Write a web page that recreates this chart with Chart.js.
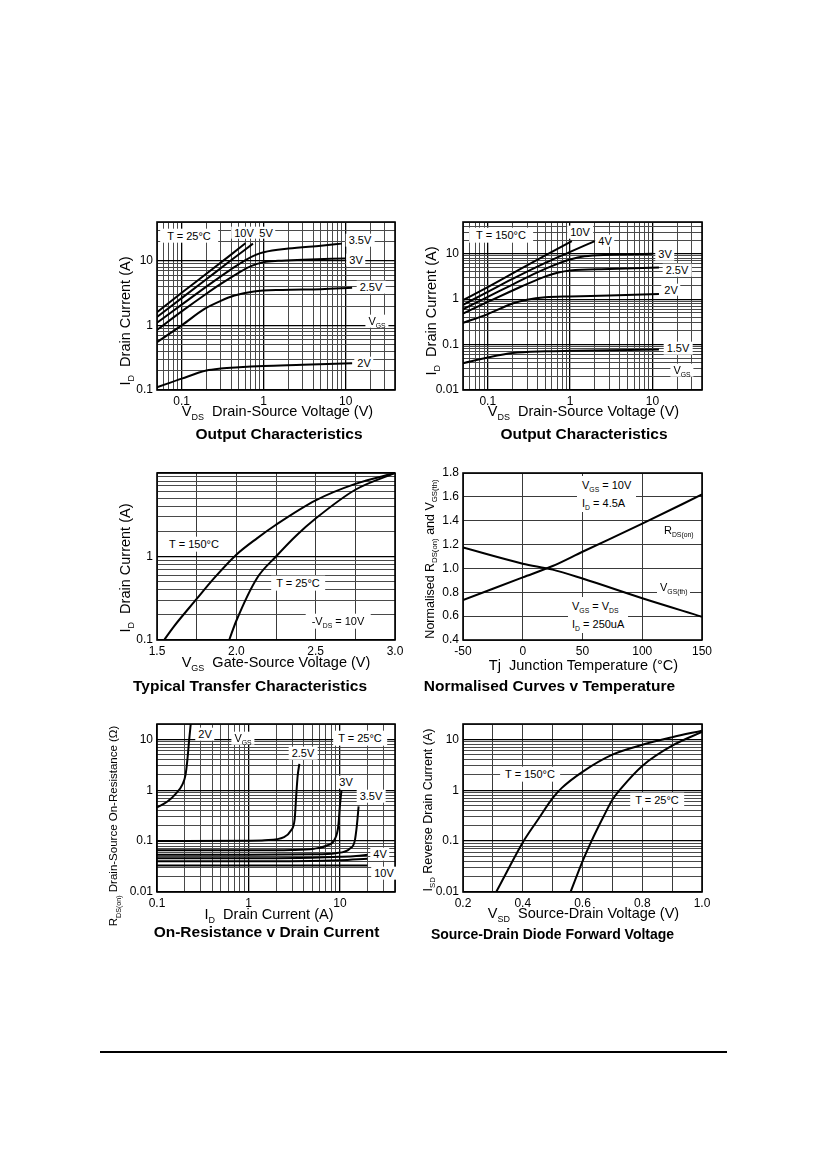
<!DOCTYPE html>
<html><head><meta charset="utf-8">
<script src="https://cdn.jsdelivr.net/npm/chart.js@4.4.1/dist/chart.umd.min.js"></script>
<style>
html,body{margin:0;padding:0;background:#fff;}
body{width:826px;height:1169px;position:relative;overflow:hidden;font-family:Arial,"Liberation Sans",Helvetica,sans-serif;color:#000;}
.box{position:absolute;}
.t{position:absolute;white-space:nowrap;line-height:1.15;}
.w{background:#fff;padding:0 3px;}
.s{font-size:62%;vertical-align:-0.45em;line-height:0;}
.hr{position:absolute;left:100px;top:1051px;width:627px;height:2px;background:#000;}
</style></head><body>
<div class="hr"></div>
<script>
// ================= DATA =================
// Chart 1 – Output Characteristics, T = 25°C   points: [VDS (V), ID (A)]
const oc25_10V  = [[0.05,1.6],[0.1,3.2],[0.2,6.3],[0.4,12.5],[0.6,18.8]];
const oc25_5V   = [[0.05,1.35],[0.1,2.65],[0.2,5.2],[0.4,10.2],[0.74,18.5]];
const oc25_3V5  = [[0.05,1.1],[0.1,2.1],[0.2,4.0],[0.4,7.4],[0.6,10.3],[0.8,12.4],[1,13.6],[2,15.5],[5,17.2],[9,18.5]];
const oc25_3V   = [[0.05,0.85],[0.1,1.65],[0.2,3.1],[0.3,4.4],[0.5,6.6],[0.7,8.3],[1,9.5],[1.5,10],[3,10.4],[10,10.9]];
const oc25_2V5  = [[0.05,0.55],[0.1,1.0],[0.19,1.8],[0.3,2.4],[0.44,2.9],[0.76,3.35],[1.7,3.55],[5,3.65],[12,3.85]];
const oc25_2V   = [[0.05,0.11],[0.1,0.15],[0.2,0.2],[0.3,0.215],[0.5,0.225],[1,0.235],[3,0.245],[12,0.26]];
// Chart 2 – Output Characteristics, T = 150°C  [VDS (V), ID (A)]
const oc150_10V = [[0.05,0.95],[0.1,1.85],[0.2,3.7],[0.5,9.2],[1.05,19]];
const oc150_4V  = [[0.05,0.75],[0.1,1.45],[0.2,2.8],[0.5,6.3],[1,11],[2,19]];
const oc150_3V  = [[0.05,0.6],[0.1,1.12],[0.2,2.1],[0.4,3.9],[0.7,6.0],[1,7.5],[1.5,8.8],[3,9.5],[10,10]];
const oc150_2V5 = [[0.05,0.48],[0.1,0.87],[0.2,1.55],[0.4,2.7],[0.7,3.8],[1,4.3],[3,4.6],[12,5.0]];
const oc150_2V  = [[0.05,0.3],[0.1,0.47],[0.2,0.8],[0.3,0.97],[0.5,1.1],[1,1.15],[3,1.2],[12,1.3]];
const oc150_1V5 = [[0.05,0.039],[0.1,0.052],[0.2,0.065],[0.5,0.071],[1,0.073],[12,0.078]];
// Chart 3 – Typical Transfer Characteristics  [VGS (V), ID (A)]
const tr150 = [[1.545,0.1],[1.6,0.14],[1.75,0.31],[1.86,0.55],[2.0,1.05],[2.13,1.65],[2.25,2.4],[2.5,4.7],[2.75,7.4],[3.0,10]];
const tr25  = [[1.955,0.1],[2.0,0.17],[2.13,0.55],[2.25,1.0],[2.38,1.8],[2.5,2.85],[2.75,6.3],[3.0,10]];
// Chart 4 – Normalised Curves v Temperature  [Tj (°C), normalised value]
const normRds = [[-50,0.735],[0,0.925],[25,1.02],[50,1.14],[100,1.375],[150,1.62]];
const normVth = [[-50,1.175],[0,1.04],[25,0.99],[50,0.915],[100,0.75],[150,0.595]];
// Chart 5 – On-Resistance v Drain Current  [ID (A), RDS(on) (Ω)]
const rds_2V  = [[0.1,0.46],[0.13,0.6],[0.16,0.85],[0.19,1.3],[0.205,2],[0.215,4],[0.225,10],[0.235,22]];
const rds_2V5 = [[0.1,0.1],[1,0.102],[1.5,0.104],[2.45,0.12],[2.9,0.16],[3.2,0.27],[3.33,0.8],[3.45,1.9],[3.6,3.3]];
const rds_3V  = [[0.1,0.066],[1,0.066],[3,0.067],[5.2,0.071],[7.2,0.082],[8.8,0.11],[9.6,0.2],[10,0.5],[10.4,1.0]];
const rds_3V5 = [[0.1,0.054],[1,0.054],[5,0.055],[9,0.058],[12.8,0.071],[14.5,0.1],[15.3,0.2],[16,0.48]];
const rds_4V  = [[0.1,0.046],[1,0.046],[5,0.047],[10,0.049],[15,0.051],[20,0.054]];
const rds_5V  = [[0.1,0.04],[1,0.04],[10,0.042],[20,0.045]];
const rds_10V = [[0.1,0.033],[1,0.033],[10,0.033],[20,0.033]];
// Chart 6 – Source-Drain Diode Forward Voltage  [VSD (V), ISD (A)]
const sd150 = [[0.311,0.01],[0.35,0.027],[0.4,0.094],[0.45,0.26],[0.5,0.7],[0.53,1.1],[0.6,2.3],[0.7,5],[0.8,7.8],[0.9,11],[1.0,14.8]];
const sd25  = [[0.56,0.01],[0.6,0.04],[0.63,0.1],[0.67,0.3],[0.7,0.65],[0.73,1.1],[0.8,3.0],[0.9,7.5],[1.0,14]];
// Tick labels
const decLabels1 = [0.1,1,10];
const decLabels2 = [0.01,0.1,1,10];
const decLabels3 = [0.1,1];
// ================= DRAWING =================
const AX_FONT = {family:'Arial, "Liberation Sans", sans-serif', size:12};
function logTicks(min,max){
  const out=[];
  for(let e=-3;e<=3;e++) for(let m=1;m<=9;m++){
    const v=parseFloat((m*Math.pow(10,e)).toPrecision(6));
    if(v>=min*0.9999 && v<=max*1.0001) out.push(v);
  }
  return out;
}
const isDec = v => Math.abs(Math.log10(v)-Math.round(Math.log10(v)))<1e-6;
function logAxis(min,max,labels){
  return {
    type:'logarithmic', min, max,
    afterBuildTicks: s => { s.ticks = logTicks(min,max).map(v=>({value:v})); },
    ticks:{autoSkip:false, maxRotation:0, minRotation:0, color:'#000', font:AX_FONT, padding:4,
      callback:(v)=>{ const hit=labels.find(l=>Math.abs(l-v)/l<1e-6); return hit===undefined?'':String(hit);} },
    grid:{drawTicks:false, color:c=> (c.tick && isDec(c.tick.value))?'#000':'#4a4a4a', lineWidth:c=>(c.tick&&isDec(c.tick.value))?1.3:1},
    border:{display:false}
  };
}
function linAxis(min,max,step,show,fmt){
  return {type:'linear',min,max,
    ticks:{stepSize:step, autoSkip:false, maxRotation:0, minRotation:0, color:'#000', font:AX_FONT, padding:4,
      callback:v=> show(v)?fmt(v):''},
    grid:{drawTicks:false,color:'#3a3a3a',lineWidth:1}, border:{display:false}};
}
const frame = {id:'frame', afterDraw(ch){const {ctx,chartArea:a}=ch; ctx.save(); ctx.strokeStyle='#000'; ctx.lineWidth=1.6; ctx.strokeRect(a.left,a.top,a.right-a.left,a.bottom-a.top); ctx.restore();}};
function makeChart(p, xAxis, yAxis, series){
  const YW=52, PT=9, PR=16, XH=22;
  const wrap=document.createElement('div'); wrap.className='box';
  Object.assign(wrap.style,{left:(p.l-YW)+'px', top:(p.t-PT)+'px', width:(YW+p.w+PR)+'px', height:(PT+p.h+XH)+'px'});
  const cv=document.createElement('canvas'); wrap.appendChild(cv); document.body.appendChild(wrap);
  xAxis.afterFit = s=>{s.height=XH; s.paddingLeft=0; s.paddingRight=0;};
  yAxis.afterFit = s=>{s.width=YW; s.paddingTop=0; s.paddingBottom=0;};
  xAxis.position='bottom'; yAxis.position='left';
  new Chart(cv,{type:'scatter',
    data:{datasets:series.map(d=>({data:d.map(q=>({x:q[0],y:q[1]})), showLine:true, borderColor:'#000', borderWidth:2, pointRadius:0, pointHoverRadius:0, cubicInterpolationMode:'monotone', fill:false}))},
    options:{responsive:true, maintainAspectRatio:false, animation:false, events:[],
      layout:{padding:{left:0,top:PT,right:PR,bottom:0}},
      plugins:{legend:{display:false}, tooltip:{enabled:false}},
      scales:{x:xAxis,y:yAxis}},
    plugins:[frame]});
}
const half = v => Math.abs(v*2-Math.round(v*2))<1e-6;
const fifth = v => Math.abs(v*5-Math.round(v*5))<1e-6;
makeChart({l:157,t:222,w:238,h:168}, logAxis(0.05,40,decLabels1), logAxis(0.1,40,decLabels1),
  [oc25_10V,oc25_5V,oc25_3V5,oc25_3V,oc25_2V5,oc25_2V]);
makeChart({l:463,t:222,w:239,h:168}, logAxis(0.05,40,decLabels1), logAxis(0.01,50,decLabels2),
  [oc150_10V,oc150_4V,oc150_3V,oc150_2V5,oc150_2V,oc150_1V5]);
makeChart({l:157,t:473,w:238,h:167}, linAxis(1.5,3.0,0.25,half,v=>v.toFixed(1)), logAxis(0.1,10,decLabels3),
  [tr150,tr25]);
makeChart({l:463,t:473,w:239,h:167}, linAxis(-50,150,50,()=>true,v=>String(v)), linAxis(0.4,1.8,0.2,()=>true,v=>v.toFixed(1)),
  [normRds,normVth]);
makeChart({l:157,t:724,w:238,h:168}, logAxis(0.1,40,decLabels1), logAxis(0.01,20,decLabels2),
  [rds_2V,rds_2V5,rds_3V,rds_3V5,rds_4V,rds_5V,rds_10V]);
makeChart({l:463,t:724,w:239,h:168}, linAxis(0.2,1.0,0.1,fifth,v=>v.toFixed(1)), logAxis(0.01,20,decLabels2),
  [sd150,sd25]);

// ================= TEXT =================
const sub = s => `<span class="s">${s}</span>`;
function T(html,x,y,o={}){
  const d=document.createElement('div'); d.className='t'+(o.bg?' w':''); d.innerHTML=html;
  d.style.left=x+'px'; d.style.top=y+'px'; d.style.fontSize=(o.fs||11)+'px';
  if(o.bold) d.style.fontWeight='bold';
  if(o.lh) d.style.lineHeight=o.lh;
  if(o.pad) d.style.padding=o.pad;
  const tx = o.left ? '0' : '-50%';
  d.style.transform=`translate(${tx},-50%)` + (o.rot?' rotate(-90deg)':'');
  document.body.appendChild(d);
}
// Chart 1
T('T = 25°C',189,235.5,{bg:1,pad:'1px 7px'});
T('10V',244,232.5,{bg:1}); T('5V',266,232.5,{bg:1});
T('3.5V',360,240,{bg:1}); T('3V',356,259.5,{bg:1}); T('2.5V',371,287,{bg:1});
T('V'+sub('GS'),377,321,{bg:1}); T('2V',364,363,{bg:1});
T('V'+sub('DS')+'&nbsp;&nbsp;Drain-Source Voltage (V)',277.5,411,{fs:14.5});
T('I'+sub('D')+'&nbsp;&nbsp;Drain Current (A)',125,321,{fs:14.5,rot:1});
T('Output Characteristics',279,434,{fs:15.5,bold:1});
// Chart 2
T('T = 150°C',501,235,{bg:1,pad:'1px 7px'});
T('10V',580,232,{bg:1}); T('4V',605,240.5,{bg:1}); T('3V',665,254,{bg:1});
T('2.5V',677,270,{bg:1}); T('2V',671,289.5,{bg:1}); T('1.5V',678,348,{bg:1});
T('V'+sub('GS'),682,370,{bg:1});
T('V'+sub('DS')+'&nbsp;&nbsp;Drain-Source Voltage (V)',583.5,411,{fs:14.5});
T('I'+sub('D')+'&nbsp;&nbsp;Drain Current (A)',431,311,{fs:14.5,rot:1});
T('Output Characteristics',584,434,{fs:15.5,bold:1});
// Chart 3
T('T = 150°C',194,544,{bg:1,pad:'1px 5px'});
T('T = 25°C',298,583,{bg:1,pad:'1px 5px'});
T('-V'+sub('DS')+' = 10V',338,621,{bg:1,pad:'1px 6px'});
T('V'+sub('GS')+'&nbsp;&nbsp;Gate-Source Voltage (V)',276,662,{fs:14.5});
T('I'+sub('D')+'&nbsp;&nbsp;Drain Current (A)',125,568,{fs:14.5,rot:1});
T('Typical Transfer Characteristics',250,686,{fs:15.5,bold:1});
// Chart 4
T('V'+sub('GS')+' = 10V<br>I'+sub('D')+' = 4.5A',577,494,{bg:1,left:1,lh:'18px',pad:'0 5px'});
T('R'+sub('DS(on)'),664,530,{left:1});
T('V'+sub('GS(th)'),657,587,{left:1,bg:1});
T('V'+sub('GS')+' = V'+sub('DS')+'<br>I'+sub('D')+' = 250uA',568,615,{bg:1,left:1,lh:'18px',pad:'0 4px'});
T('Tj&nbsp;&nbsp;Junction Temperature (°C)',583.5,665,{fs:14.5});
T('Normalised R'+sub('DS(on)')+' and V'+sub('GS(th)'),430,559,{fs:12.5,rot:1});
T('Normalised Curves v Temperature',549.5,686,{fs:15.5,bold:1});
// Chart 5
T('2V',205,734,{bg:1}); T('V'+sub('GS'),243,738,{bg:1});
T('T = 25°C',360,738,{bg:1,pad:'1px 5px'});
T('2.5V',303,753,{bg:1}); T('3V',346,782,{bg:1}); T('3.5V',371,796,{bg:1});
T('4V',380,854,{bg:1}); T('10V',384,873,{bg:1});
T('I'+sub('D')+'&nbsp;&nbsp;Drain Current (A)',269,914,{fs:14.5});
T('R'+sub('DS(on)')+' Drain-Source On-Resistance (Ω)',114,826,{fs:11.5,rot:1});
T('On-Resistance v Drain Current',266.5,932,{fs:15.5,bold:1});
// Chart 6
T('T = 150°C',530,774,{bg:1,pad:'1px 5px'});
T('T = 25°C',657,800,{bg:1,pad:'1px 5px'});
T('V'+sub('SD')+'&nbsp;&nbsp;Source-Drain Voltage (V)',583.5,913,{fs:14.5});
T('I'+sub('SD')+' Reverse Drain Current (A)',428,810,{fs:12.5,rot:1});
T('Source-Drain Diode Forward Voltage',552.5,934,{fs:14,bold:1});
</script></body></html>
